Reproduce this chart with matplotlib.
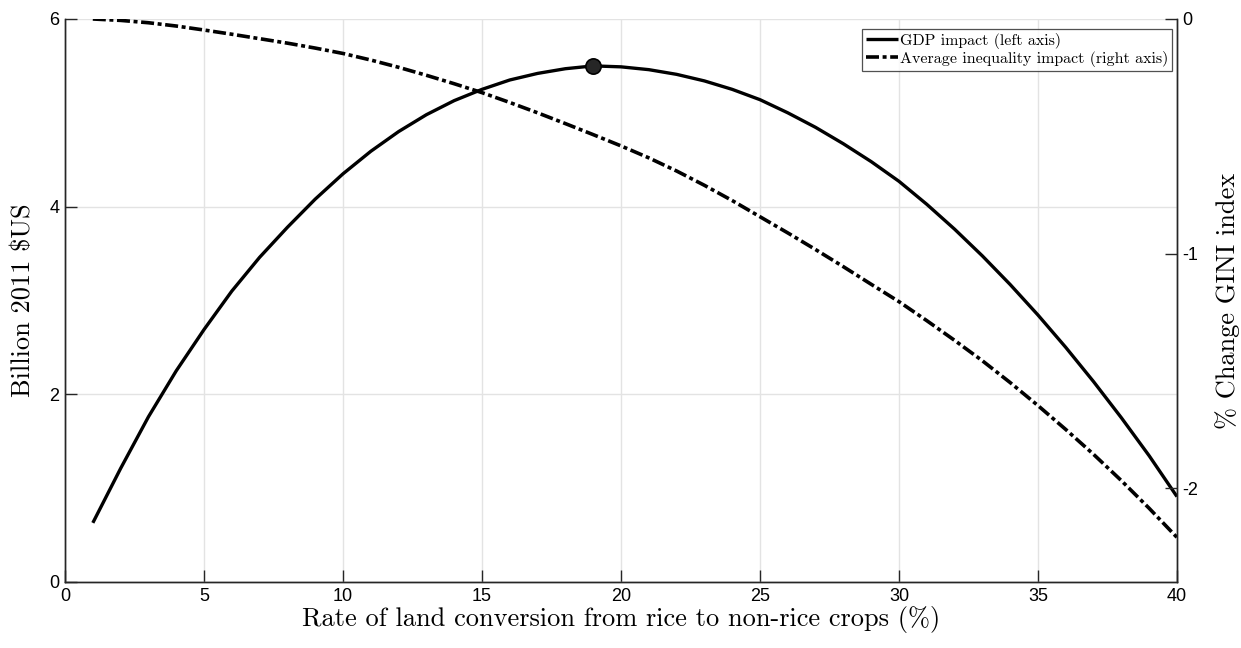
import matplotlib
matplotlib.use("Agg")
from matplotlib import pyplot as plt

# rate of land conversion (%)
rate = list(range(1, 41))

# GDP impact, billion 2011 $US (left axis)
gdp = [0.63, 1.21, 1.76, 2.25, 2.69, 3.10, 3.46, 3.78, 4.08, 4.35,
       4.59, 4.80, 4.98, 5.13, 5.25, 5.35, 5.42, 5.47, 5.50, 5.49,
       5.46, 5.41, 5.34, 5.25, 5.14, 5.00, 4.845, 4.67, 4.48, 4.27,
       4.025, 3.76, 3.475, 3.17, 2.845, 2.50, 2.135, 1.75, 1.345, 0.91]

# average inequality impact, % change GINI (right axis)
gini = [0.000, -0.006, -0.016, -0.030, -0.047, -0.065, -0.084, -0.103, -0.124, -0.147,
        -0.175, -0.206, -0.240, -0.276, -0.314, -0.356, -0.400, -0.446, -0.493, -0.541,
        -0.592, -0.648, -0.709, -0.774, -0.843, -0.912, -0.983, -1.056, -1.131, -1.205,
        -1.286, -1.370, -1.457, -1.550, -1.648, -1.750, -1.856, -1.968, -2.086, -2.210]

peak_x = 19
peak_y = 5.50

xticks = [0, 5, 10, 15, 20, 25, 30, 35, 40]
left_ticks = [0, 2, 4, 6]
right_ticks = [-2, -1, 0]

plt.rcParams['axes.unicode_minus'] = False
plt.rcParams['font.family'] = 'Liberation Sans'
serif = 'cmr10'
spine_col = '#262626'


def main():
	fig = plt.figure(figsize=(12.41, 6.48), dpi=100)
	ax = fig.add_axes([0.0524, 0.1019, 0.896, 0.8688])
	ax2 = ax.twinx()

	l1, = ax.plot(rate, gdp, color='black', lw=2.4, solid_capstyle='butt')
	ax.plot([peak_x], [peak_y], 'o', ms=11, mfc='#262626', mec='black', mew=1.2)
	l2, = ax2.plot(rate, gini, color='black', lw=2.6, linestyle=(0, (3.6, 1.0, 1.1, 1.0)))

	ax.set_xlim(0, 40)
	ax.set_ylim(0, 6)
	ax2.set_ylim(-2.4, 0)
	ax.set_xticks(xticks)
	ax.set_yticks(left_ticks)
	ax2.set_yticks(right_ticks)
	ax.set_xticklabels([str(v) for v in xticks])
	ax.set_yticklabels([str(v) for v in left_ticks])
	ax2.set_yticklabels([str(v) for v in right_ticks])

	ax.grid(True, color='#e3e3e3', lw=1.0)
	ax.set_axisbelow(True)

	for a in (ax, ax2):
		a.spines['top'].set_visible(False)
		for s in ('left', 'right', 'bottom'):
			a.spines[s].set_color(spine_col)
			a.spines[s].set_linewidth(1.0)
		a.tick_params(direction='in', length=8.5, width=1.0, color=spine_col,
					  labelsize=13, labelcolor='black', pad=4)
	ax.tick_params(axis='x', top=False)

	ax.set_xlabel('Rate of land conversion from rice to non-rice crops (%)',
				  fontfamily=serif, fontsize=19, labelpad=1)
	ax.set_ylabel(r'Billion 2011 \$US', fontfamily=serif, fontsize=19, labelpad=10)
	ax2.set_ylabel('% Change GINI index', fontfamily=serif, fontsize=19, labelpad=12)

	leg = ax2.legend([l1, l2], ['GDP impact (left axis)', 'Average inequality impact (right axis)'],
					 loc='upper right', bbox_to_anchor=(0.9955, 0.983),
					 prop={'family': serif, 'size': 11.5}, frameon=True, fancybox=False,
					 handlelength=2.0, handletextpad=0.1, borderpad=0.25, labelspacing=0.15,
					 borderaxespad=0.0)
	leg.get_frame().set_edgecolor(spine_col)
	leg.get_frame().set_linewidth(0.9)

	fig.savefig('out.png', dpi=100)


if __name__ == '__main__':
	main()
